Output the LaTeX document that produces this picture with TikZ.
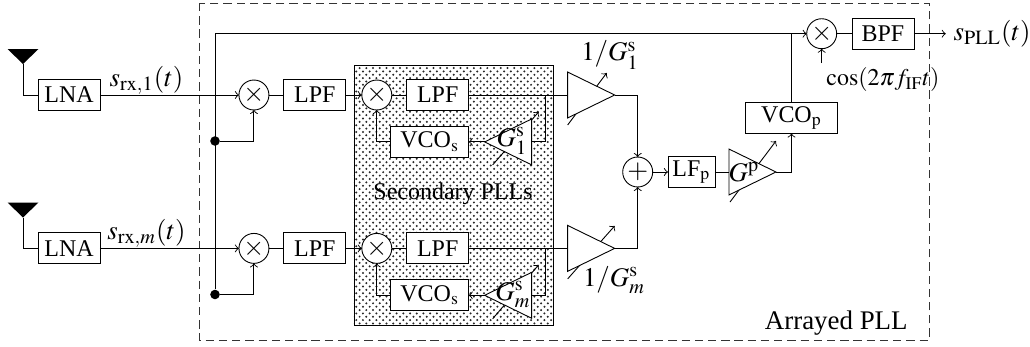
\documentclass[tikz,border=0pt]{standalone}
\usepackage{amsmath,amssymb}
\usepackage{mathptmx}
\usepackage{fontspec}
\setmainfont{Liberation Serif}
\usepackage{tikz}
\usetikzlibrary{arrows.meta,shapes.geometric,positioning,calc,backgrounds,patterns}
\tikzset{
  pllBlock/.style={draw,fill=white,inner sep=0pt,outer sep=0pt,minimum height=0.486cm,minimum width=0.972cm,font=\fontsize{10.7}{12}\selectfont},
  pllMixer/.style={draw,fill=white,circle,inner sep=0pt,outer sep=0pt,minimum size=0.47cm,font=\large},
  pllAmp/.style={draw,fill=white,isosceles triangle,isosceles triangle stretches,inner sep=0pt,outer sep=0pt,
                 minimum width=0.72cm,minimum height=0.737cm},
  pllAmpRev/.style={pllAmp,shape border rotate=180},
  pllDot/.style={fill,circle,inner sep=0pt,minimum size=0.15cm},
  pllMath/.style={inner sep=0pt,font=\large},
  pllText/.style={inner sep=0pt,font=\fontsize{10.7}{12}\selectfont}
}
\begin{document}
\begin{tikzpicture}[x=0.01568cm,y=-0.01568cm,>=to]
\useasboundingbox (0,0) rectangle (1030,347);
% shaded area and outer frame
\begin{scope}[on background layer]
\node[draw,pattern=crosshatch dots,pattern color=black!85,minimum width=3.13cm,minimum height=4.08cm,
      inner sep=0pt,anchor=north west] (secBox) at (353.5,65) {};
\draw[dash pattern=on 3.7pt off 2.2pt,black!80] (199.5,3) rectangle (929,340.5);
\end{scope}
% upper branch
\coordinate (antA) at (23,64);
\fill (antA) -- ++(-15.5,-15) -- ++(31,0) -- cycle;
\node[pllBlock] (lnaA) at (69,95) {LNA};
\node[pllMixer,right=2.18cm of lnaA] (mixA) {$\times$};
\node[pllBlock,right=.235cm of mixA] (lpfA) {LPF};
\node[pllMixer,right=.25cm of lpfA] (mixB) {$\times$};
\node[pllBlock,right=.235cm of mixB] (lpfB) {LPF};
\node[pllBlock,minimum width=1.223cm,below left=.25cm and 0cm of lpfB.south east] (vcoA) {VCO$_\mathrm{s}$};
\node[pllAmpRev,right=.25cm of vcoA] (triA) {};
\node[pllAmp,right=1.552cm of lpfB] (ampA) {};
% lower branch
\node[pllBlock,below=1.92cm of lnaA] (lnaB) {LNA};
\coordinate (antB) at (23,217.5);
\fill (antB) -- ++(-15.5,-15) -- ++(31,0) -- cycle;
\node[pllMixer,right=2.18cm of lnaB] (mixD) {$\times$};
\node[pllBlock,right=.235cm of mixD] (lpfC) {LPF};
\node[pllMixer,right=.25cm of lpfC] (mixE) {$\times$};
\node[pllBlock,right=.235cm of mixE] (lpfD) {LPF};
\node[pllBlock,minimum width=1.223cm,below left=.25cm and 0cm of lpfD.south east] (vcoB) {VCO$_\mathrm{s}$};
\node[pllAmpRev,right=.25cm of vcoB] (triB) {};
\node[pllAmp,right=1.552cm of lpfD] (ampB) {};
% combining path
\node[pllMixer] (addN) at (637.7,172) {$+$};
\node[pllBlock,minimum width=0.737cm,right=.24cm of addN] (lfP) {LF$_\mathrm{p}$};
\node[pllAmp,right=.22cm of lfP] (triP) {};
\node[pllBlock,minimum width=1.443cm] (vcoP) at (791.5,118) {VCO$_\mathrm{p}$};
\node[pllMixer] (mixC) at (821.7,33.7) {$\times$};
\node[pllBlock,right=.24cm of mixC] (bpfN) {BPF};
\node[right=.5cm of bpfN,font=\large] (outN) {$s_{\mathrm{PLL}}(t)$};
\coordinate[below=.225cm of mixC] (cosIn);
\node[pllDot] (jA) at (215,141) {};
\node[pllDot] (jB) at (215,294.5) {};
\coordinate (tapA) at (545,95);
\coordinate (tapB) at (545,248.5);
% labels
\node[pllMath] (rxA) at (146.5,80) {$s_{\mathrm{rx},1}(t)$};
\node[pllMath] (rxB) at (146.5,233) {$s_{\mathrm{rx},m}(t)$};
\node[pllMath] (gainA) at (610,55) {$1/G_1^{\mathrm{s}}$};
\node[pllMath] (gainB) at (614,280) {$1/G_m^{\mathrm{s}}$};
\node[pllMath] (gA) at (512,141) {$G_1^{\mathrm{s}}$};
\node[pllMath] (gB) at (513,294.5) {$G_m^{\mathrm{s}}$};
\node[pllMath] (gP) at (744,172) {$G^{\mathrm{p}}$};
\node[pllText] (cosN) at (883,80) {$\cos(2\pi f_{\mathrm{IF}}t)$};
\node[pllText] (secN) at (453,194) {Secondary PLLs};
\node[pllMath,anchor=east] (arrN) at (908,323) {Arrayed PLL};
% gain control arrows run below the triangles
\begin{scope}[on background layer]
\draw[->] ($(ampA.lower side)+(0,30)$) -- ($(ampA.lower side)+(39,-22)$);
\draw[->] ($(ampB.lower side)+(0,30.5)$) -- ($(ampB.lower side)+(47,-22.5)$);
\draw[->] ($(triA.lower side)+(-39,23)$) -- ($(triA.lower side)+(7,-30)$);
\draw[->] ($(triB.lower side)+(-39,23.5)$) -- ($(triB.lower side)+(7,-30.5)$);
\draw[->] ($(triP.lower side)+(1,30)$) -- ($(triP.lower side)+(47,-31)$);
\end{scope}
% wires
\draw (antA) |- (lnaA);
\draw (antB) |- (lnaB);
\draw[->] (lnaA) -- (mixA);
\draw[->] (lnaB) -- (mixD);
\draw (mixA) -- (lpfA);
\draw (mixD) -- (lpfC);
\draw[->] (lpfA) -- (mixB);
\draw[->] (lpfC) -- (mixE);
\draw (mixB) -- (lpfB);
\draw (mixE) -- (lpfD);
\draw (lpfB) -- (ampA.lower side);
\draw (lpfD) -- (ampB.lower side);
\draw (tapA) |- (triA.lower side);
\draw (tapB) |- (triB.lower side);
\draw[->] (triA.apex) -- (vcoA);
\draw[->] (triB.apex) -- (vcoB);
\draw[->] (vcoA) -| (mixB);
\draw[->] (vcoB) -| (mixE);
\draw[->] (jB) |- (mixC);
\draw[->] (jA) -| (mixA);
\draw[->] (jB) -| (mixD);
\draw[->] (ampA.apex) -| (addN);
\draw[->] (ampB.apex) -| (addN);
\draw[->] (addN) -- (lfP);
\draw (lfP) -- (triP.lower side);
\draw[->] (triP.apex) -| (vcoP);
\draw (vcoP) -- (vcoP |- mixC);
\draw[->] (cosIn) -- (mixC);
\draw (mixC) -- (bpfN);
\draw[->] (bpfN) -- (outN);
\end{tikzpicture}
\end{document}
